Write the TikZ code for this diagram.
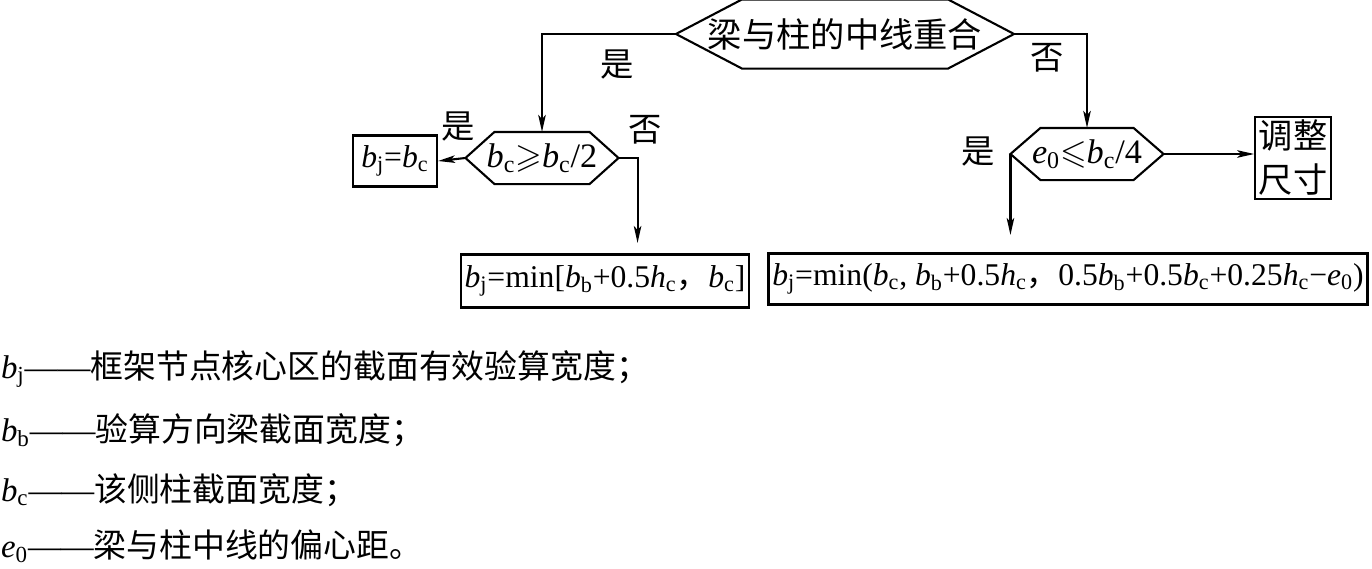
\documentclass[tikz,border=0pt]{standalone}
\usepackage{fontspec}
\usepackage{amssymb}
\setmainfont{Liberation Serif}
\newfontfamily\cjk{Noto Sans CJK SC}
\usetikzlibrary{arrows.meta}

\newcommand{\vsub}[2]{\textit{#1}\textsubscript{#2}}

\begin{document}
\begin{tikzpicture}[x=0.02cm, y=-0.02cm,
            font=\fontsize{18}{21}\selectfont,
            line width=1.2pt,
            >={Stealth[length=0.34cm, width=0.15cm, inset=0.08cm]},
            hexNode/.style={inner sep=0pt, font=\fontsize{19.5}{22}\selectfont,
                append after command={\pgfextra{\draw (\tikzlastnode.west) -- ([xshift=#1*0.02cm]\tikzlastnode.north west)
                    -- ([xshift=-#1*0.02cm]\tikzlastnode.north east) -- (\tikzlastnode.east)
                    -- ([xshift=-#1*0.02cm]\tikzlastnode.south east) -- ([xshift=#1*0.02cm]\tikzlastnode.south west) -- cycle;}}},
            boxNode/.style={rectangle, draw, inner sep=2pt},
            labelNode/.style={inner sep=0pt, font=\fontsize{19}{22}\selectfont\cjk},
            legendNode/.style={anchor=west, inner sep=0pt, font=\fontsize{18.7}{21}\selectfont}]

            \useasboundingbox (0,0) rectangle (1372,568);

            % decisions
            \node [hexNode=66, minimum width=336*0.02cm, minimum height=67*0.02cm](centre) at (845,34) {\cjk 梁与柱的中线重合};
            \node [hexNode=29, minimum width=151*0.02cm, minimum height=50*0.02cm](checkL) at (542,158) {\vsub{b}{c}$\geqslant$\vsub{b}{c}/2};
            \node [hexNode=30, minimum width=151*0.02cm, minimum height=50*0.02cm](checkR) at (1087,154) {\vsub{e}{0}$\leqslant$\vsub{b}{c}/4};

            % results
            \node [boxNode, minimum width=84*0.02cm, minimum height=51*0.02cm](resA) at (395,161) {\vsub{b}{j}=\vsub{b}{c}};
            \node [boxNode, minimum width=286*0.02cm, minimum height=53*0.02cm](resB) at (605,281) {\vsub{b}{j}=min[\vsub{b}{b}+0.5\vsub{h}{c}{\cjk ，}\vsub{b}{c}]};
            \node [boxNode, minimum width=599*0.02cm, minimum height=51*0.02cm](resC) at (1068,279) {\vsub{b}{j}=min(\vsub{b}{c}, \vsub{b}{b}+0.5\vsub{h}{c}{\cjk ，}0.5\vsub{b}{b}+0.5\vsub{b}{c}+0.25\vsub{h}{c}−\vsub{e}{0})};
            \node [boxNode, align=center, font=\fontsize{19.5}{25}\selectfont\cjk, minimum width=73*0.02cm, minimum height=78*0.02cm](resize) at (1293,158) {调整\\尺寸};

            \path (checkL.east) ++(19,85) coordinate (endL);
            \path (checkR.west) ++(0,81) coordinate (endR);

            % connectors
            \draw[->] (centre.west) -| (checkL.north);
            \draw[->] (centre.east) -| (checkR.north);
            \draw[->] (checkL.west) -- (resA.east);
            \draw[->] (checkL.east) -| (endL);
            \draw[->] (checkR.west) -- (endR);
            \draw[->] (checkR.east) -- (checkR.east -| resize.west);

            % yes / no
            \node [labelNode](yesTop) at (617,65) {是};
            \node [labelNode](noTop) at (1047,58) {否};
            \node [labelNode](yesL) at (458,127) {是};
            \node [labelNode](noL) at (645,130) {否};
            \node [labelNode](yesR) at (978,152) {是};

            % legend
            \node [legendNode](legJ) at (0,369) {\vsub{b}{j}——{\cjk 框架节点核心区的截面有效验算宽度；}};
            \node [legendNode](legB) at (0,430) {\vsub{b}{b}——{\cjk 验算方向梁截面宽度；}};
            \node [legendNode](legC) at (0,490) {\vsub{b}{c}——{\cjk 该侧柱截面宽度；}};
            \node [legendNode](legE) at (0,546) {\vsub{e}{0}——{\cjk 梁与柱中线的偏心距。}};
        \end{tikzpicture}
\end{document}
